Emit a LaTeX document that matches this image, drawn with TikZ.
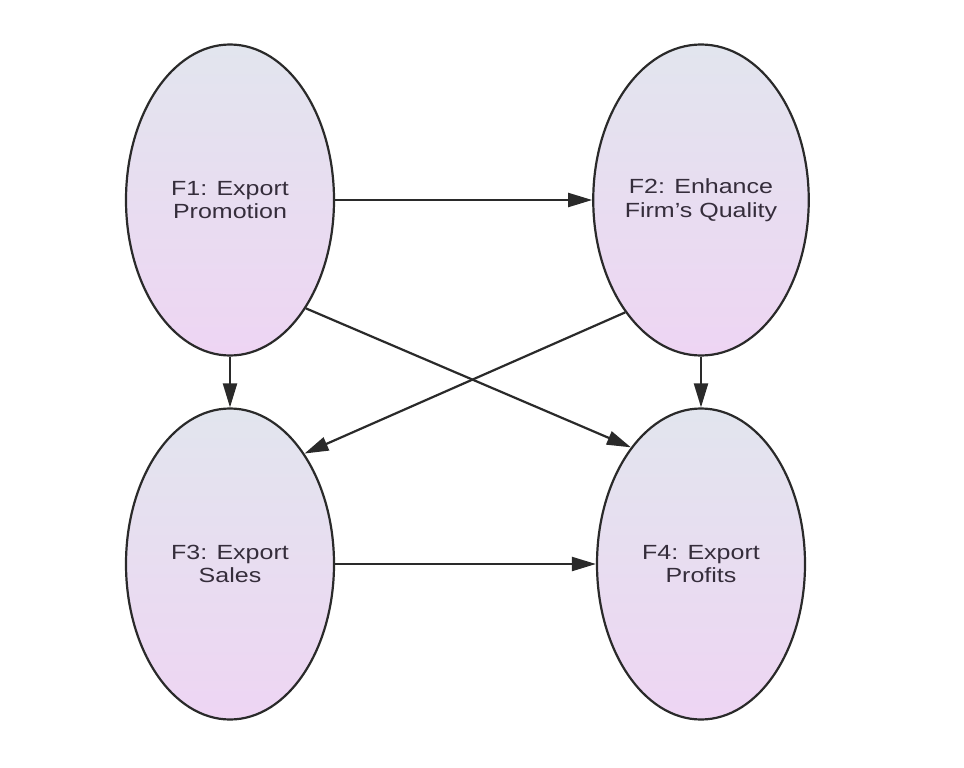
\documentclass[tikz,border=0pt]{standalone}
\usepackage{fontspec}
\setmainfont{Liberation Sans}[FakeStretch=1.22]
\usetikzlibrary{shapes.geometric,arrows.meta}
\definecolor{topc}{HTML}{E2E5EE}
\definecolor{botc}{HTML}{EED5F3}
\definecolor{edgec}{HTML}{2A2A2A}
\definecolor{txtc}{HTML}{352D3B}
\tikzset{
  factor/.style={ellipse, draw=edgec, line width=2.2pt, top color=topc, bottom color=botc,
    minimum width=208pt, minimum height=311pt, inner sep=0pt, align=center,
    text=txtc, font=\fontsize{20.5}{23.5}\selectfont},
  link/.style={draw=edgec, line width=2.2pt, -{Triangle[length=24pt,width=14pt]}}
}
\begin{document}
\begin{tikzpicture}[x=1pt,y=-1pt]
\useasboundingbox[fill=white] (0,0) rectangle (964,768);
\node[factor] (F1) at (230,200) {F1: Export\\Promotion};
\node[factor] (F2) at (701,200) {F2: Enhance\\Firm's Quality};
\node[factor] (F3) at (230,564) {F3: Export\\Sales};
\node[factor] (F4) at (701,564) {F4: Export\\Profits};
\draw[link] (F1.east) -- (F2.west);
\draw[link] (F1.south) -- (F3.north);
\draw[link] (F2.south) -- (F4.north);
\draw[link] (F3.east) -- (F4.west);
\draw[link] (F1.-55.6) -- (F4.121.9);
\draw[link] (F2.-124.3) -- (F3.56.2);
\end{tikzpicture}
\end{document}
